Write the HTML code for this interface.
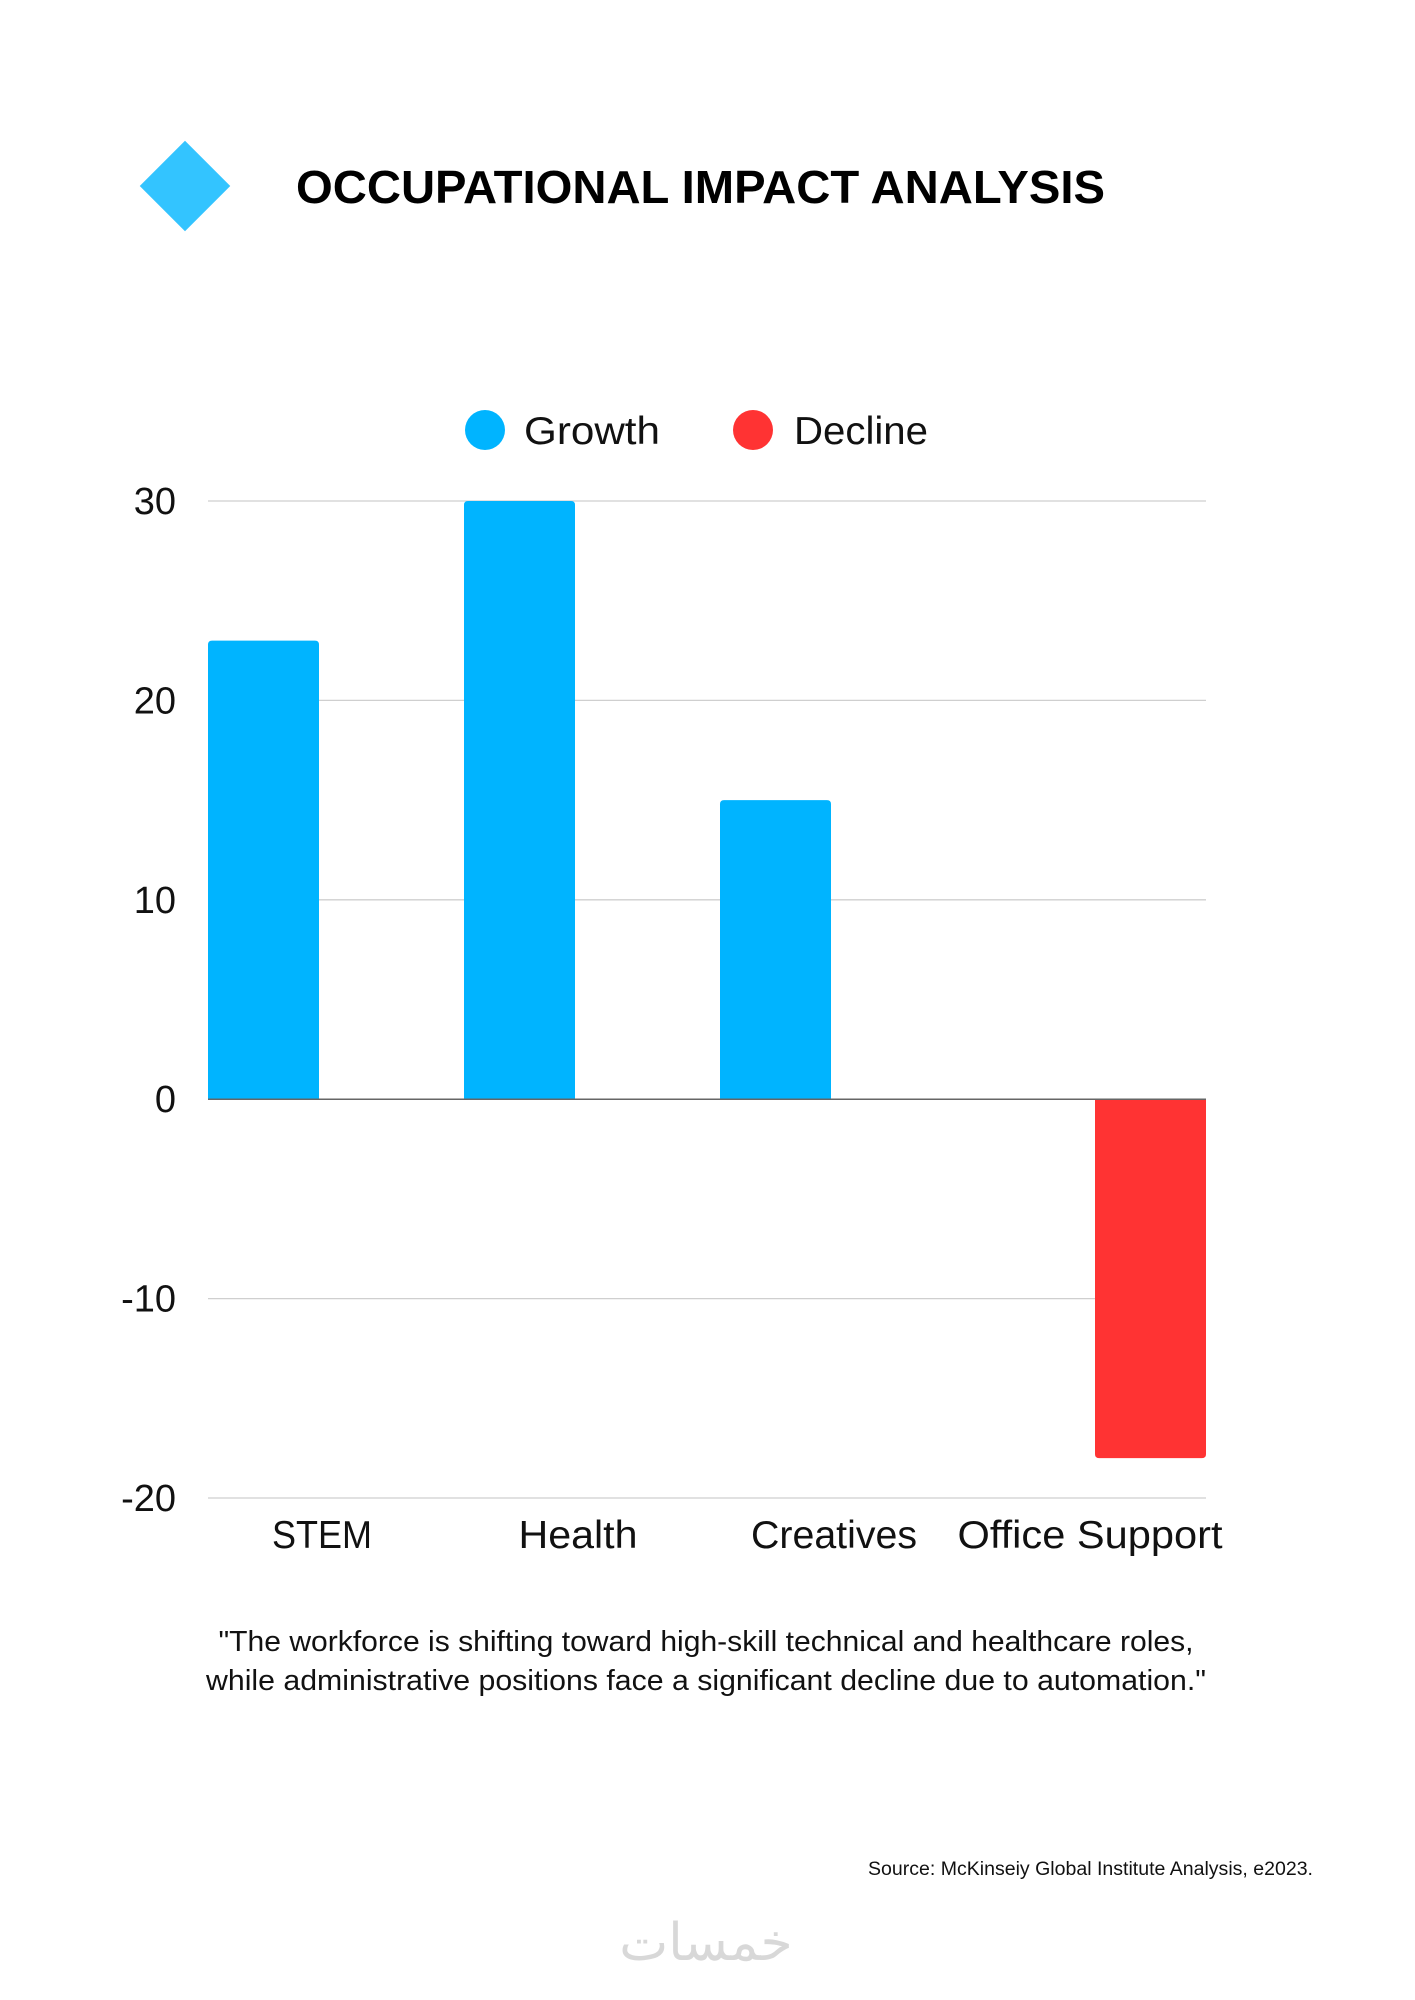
<!DOCTYPE html>
<html><head><meta charset="utf-8"><style>
html,body{margin:0;padding:0;background:#fff}
svg{display:block}
text{font-family:"Liberation Sans","Noto Sans CJK SC",sans-serif}
</style></head><body>
<svg id="chart" width="1415" height="2000" viewBox="0 0 1415 2000">
<rect x="153" y="154" width="64" height="64" fill="#33c4ff" transform="rotate(45 185 186)"/>
<text x="296" y="203" font-size="46" font-weight="bold" fill="#000" textLength="809" lengthAdjust="spacingAndGlyphs">OCCUPATIONAL IMPACT ANALYSIS</text>
<g>
<circle cx="485" cy="430" r="20" fill="#00b4ff"/>
<text x="524" y="444" font-size="39" fill="#111" textLength="136" lengthAdjust="spacingAndGlyphs">Growth</text>
<circle cx="753" cy="430" r="20" fill="#ff3333"/>
<text x="794" y="444" font-size="39" fill="#111" textLength="134" lengthAdjust="spacingAndGlyphs">Decline</text>
</g>
<g id="grid"></g><g id="bars"></g><g id="axis"></g>
<text x="706" y="1651" font-size="29" fill="#111" text-anchor="middle" textLength="975" lengthAdjust="spacingAndGlyphs">"The workforce is shifting toward high-skill technical and healthcare roles,</text>
<text x="706" y="1690" font-size="29" fill="#111" text-anchor="middle" textLength="1000" lengthAdjust="spacingAndGlyphs">while administrative positions face a significant decline due to automation."</text>
<text x="1313" y="1875" font-size="19" fill="#111" text-anchor="end" textLength="445" lengthAdjust="spacingAndGlyphs">Source: McKinseiy Global Institute Analysis, e2023.</text>
<text x="706" y="1960" font-size="52" fill="#d8d8d8" text-anchor="middle" font-family="'DejaVu Sans','Noto Sans CJK SC',sans-serif">خمسات</text>
</svg>
<script>
const categories = ["STEM","Health","Creatives","Office Support"];
const values = [23, 30, 15, -18];
const yTicks = [30, 20, 10, 0, -10, -20];
const yTickLabels = ["30","20","10","0","-10","-20"];
const labelTextLengths = [100, 119, 166, 265];
const NS="http://www.w3.org/2000/svg";
const left=208, right=1206, yTop=501, yBot=1498, yMax=30, yMin=-20, barW=111, step=256;
function y(v){return yTop+(yMax-v)/(yMax-yMin)*(yBot-yTop);}
function xBar(i){return i===categories.length-1 ? right-barW : left+i*step;}
function xLabel(i){return left+barW+3+i*step;}
function mk(tag,attrs,parent){const e=document.createElementNS(NS,tag);for(const k in attrs)e.setAttribute(k,attrs[k]);parent.appendChild(e);return e;}
const grid=document.getElementById('grid'),bars=document.getElementById('bars'),axis=document.getElementById('axis');
yTicks.forEach((t,i)=>{
  const l=mk('line',{x1:left,x2:right,y1:y(t),y2:y(t),stroke:t===0?'#666':'#cfcfcf','stroke-width':t===0?1.5:1.3},t===0?axis:grid);
  
  
  const tx=mk('text',{x:176,y:y(t)+13,'font-size':38,fill:'#111','text-anchor':'end'},axis);
  tx.textContent=yTickLabels[i];
  
  
});
values.forEach((v,i)=>{
  const x=xBar(i), y0=y(0), yv=y(v), r=4;
  let d;
  if(v>=0) d=`M${x},${y0}V${yv+r}Q${x},${yv} ${x+r},${yv}H${x+barW-r}Q${x+barW},${yv} ${x+barW},${yv+r}V${y0}Z`;
  else d=`M${x},${y0}V${yv-r}Q${x},${yv} ${x+r},${yv}H${x+barW-r}Q${x+barW},${yv} ${x+barW},${yv-r}V${y0}Z`;
  const p=mk('path',{d:d,fill:v>=0?'#00b4ff':'#ff3333'},bars);
  
  
  const t=mk('text',{x:xLabel(i),y:1548,'font-size':39,fill:'#111','text-anchor':'middle',textLength:labelTextLengths[i],lengthAdjust:'spacingAndGlyphs'},axis);
  t.textContent=categories[i];
  
  
});
</script>
</body></html>
